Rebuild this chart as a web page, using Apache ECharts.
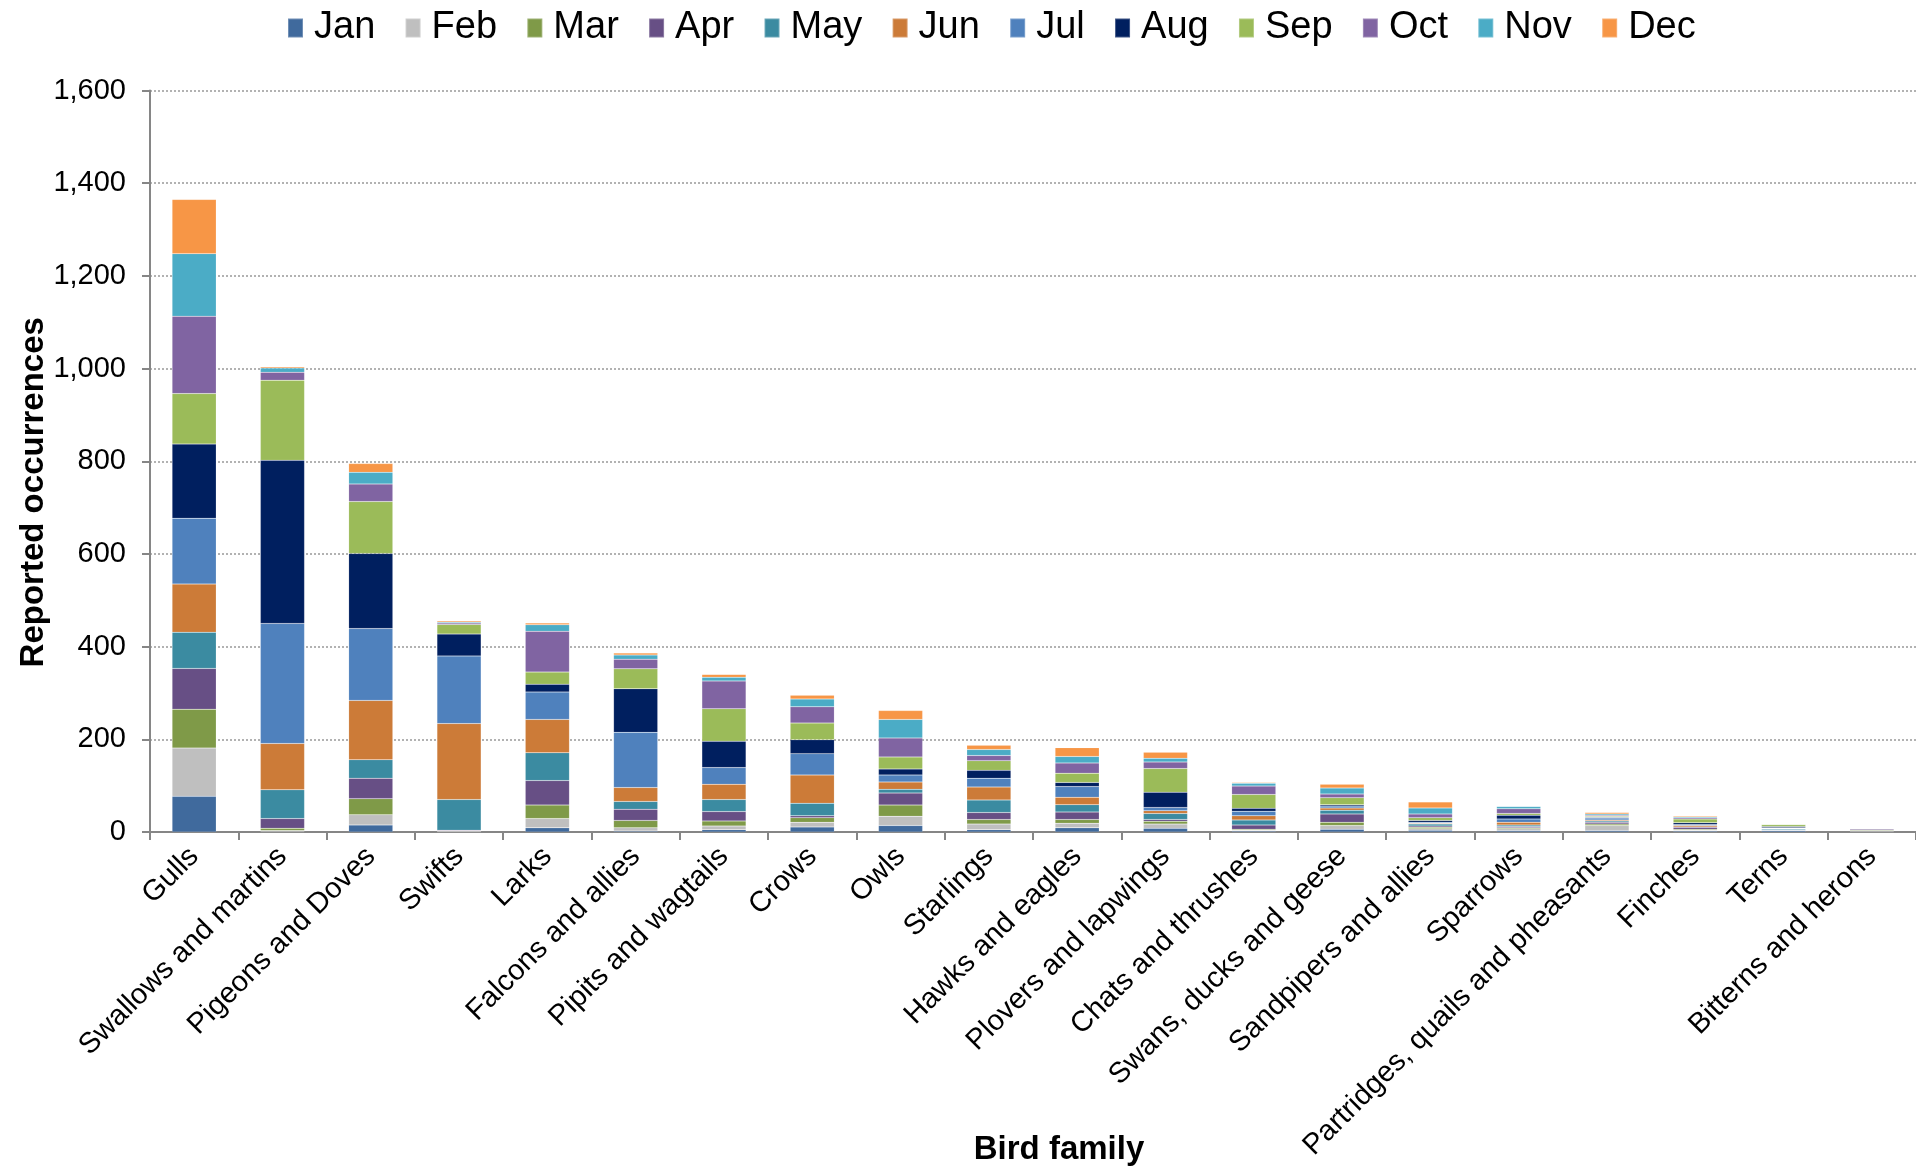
<!DOCTYPE html>
<html><head><meta charset="utf-8">
<script src="https://cdn.jsdelivr.net/npm/echarts@6/dist/echarts.min.js"></script>
<style>html,body{margin:0;padding:0;background:#fff}#c{width:1916px;height:1168px}</style>
</head><body><div id="c"></div>
<script>
const categories = ["Gulls","Swallows and martins","Pigeons and Doves","Swifts","Larks","Falcons and allies","Pipits and wagtails","Crows","Owls","Starlings","Hawks and eagles","Plovers and lapwings","Chats and thrushes","Swans, ducks and geese","Sandpipers and allies","Sparrows","Partridges, quails and pheasants","Finches","Terns","Bitterns and herons"];
const months = ["Jan","Feb","Mar","Apr","May","Jun","Jul","Aug","Sep","Oct","Nov","Dec"];
const jan = [77,1,15,1,9,2,5,11,14,5,9,8,2,6,4,3,3,2,3,1];
const feb = [104,2,22,0,20,7,8,10,20,12,10,9,2,8,3,4,11,2,0,2];
const mar = [84,5,35,1,29,16,11,10,24,10,8,6,2,7,3,2,3,2,1,2];
const apr = [88,21,44,2,53,24,20,4,26,15,16,4,9,18,3,3,4,4,1,2];
const may = [78,62,40,66,60,17,26,27,8,27,16,13,11,8,4,3,3,1,2,1];
const jun = [104,100,128,164,72,30,33,61,16,28,16,6,9,5,2,6,2,3,1,1];
const jul = [142,259,155,146,59,119,36,46,15,19,23,7,10,4,2,7,4,2,1,1];
const aug = [160,352,162,47,17,94,57,30,13,17,9,33,6,3,4,8,2,4,3,1];
const sep = [109,173,112,21,26,43,70,36,26,21,20,51,30,15,6,4,2,8,4,1];
const oct = [167,17,38,3,88,21,60,35,41,11,22,14,18,8,8,10,2,3,0,1];
const nov = [135,9,25,2,14,9,8,17,40,13,14,8,6,13,13,5,3,2,1,1];
const dec = [117,3,19,3,4,4,6,8,19,9,19,13,2,8,13,1,3,2,0,0];
const yTicks = [0,200,400,600,800,1000,1200,1400,1600];

const monthData = [jan,feb,mar,apr,may,jun,jul,aug,sep,oct,nov,dec];
const colors = ['#406A9D','#BFBFBF','#7F9A48','#674F85','#3B8BA1','#CC7B38','#4F81BD','#001F5F','#9BBB59','#8064A2','#4BACC6','#F79646'];
const FONT = '"Liberation Sans", Arial, sans-serif';

const chart = echarts.init(document.getElementById('c'));
chart.setOption({
  animation: false,
  color: colors,
  textStyle: {fontFamily: FONT},
  legend: {
    data: months, top: 4, left: 282,
    itemWidth: 15, itemHeight: 19, itemGap: 29.3, icon: 'rect',
    textStyle: {fontSize: 38, color: '#000', fontFamily: FONT, padding: [0,0,0,6]}
  },
  grid: {left: 150, right: 0, top: 90.5, bottom: 1168 - 832, outerBoundsMode: 'none', containLabel: false},
  xAxis: {
    type: 'category', data: categories,
    name: 'Bird family', nameLocation: 'middle', nameGap: 301, nameMoveOverlap: false,
    nameTextStyle: {fontSize: 33, fontWeight: 'bold', color: '#000', fontFamily: FONT, padding: [0,0,0,52]},
    axisLine: {lineStyle: {color: '#868686', width: 2}},
    axisTick: {show: true, alignWithLabel: false, length: 8, lineStyle: {color: '#868686', width: 2}},
    axisLabel: {rotate: 45, fontSize: 29, color: '#000', margin: 20, interval: 0, fontFamily: FONT}
  },
  yAxis: {
    type: 'value', min: 0, max: 1600, interval: 200,
    name: 'Reported occurrences', nameLocation: 'middle', nameGap: 100, nameMoveOverlap: false,
    nameTextStyle: {fontSize: 33, fontWeight: 'bold', color: '#000', fontFamily: FONT, padding: [0,62,0,0]},
    axisLine: {show: true, lineStyle: {color: '#868686', width: 2}},
    axisTick: {show: true, length: 8, lineStyle: {color: '#868686', width: 2}},
    axisLabel: {fontSize: 29, color: '#000', margin: 24, fontFamily: FONT,
      formatter: v => yTicks.includes(v) ? v.toLocaleString('en-US') : ''},
    splitLine: {lineStyle: {color: '#999', type: [2,2], width: 1.5}}
  },
  series: months.map((m, i) => ({
    name: m, type: 'bar', stack: 'total', barWidth: '50%',
    data: monthData[i],
    itemStyle: {color: colors[i], borderColor: 'rgba(255,255,255,0.25)', borderWidth: 0.5}
  }))
});
</script></body></html>
